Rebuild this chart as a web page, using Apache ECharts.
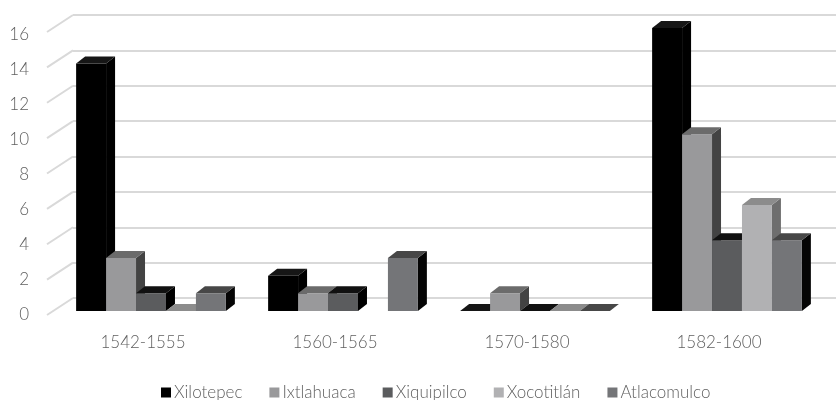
<!DOCTYPE html>
<html><head><meta charset="utf-8">
<script src="https://cdn.jsdelivr.net/npm/echarts@6/dist/echarts.min.js"></script>
<style>html,body{margin:0;padding:0;background:#fff}#c{width:836px;height:400px}</style>
</head><body><div id="c"></div>
<script>
const categories = ['1542-1555', '1560-1565', '1570-1580', '1582-1600'];
const seriesNames = ['Xilotepec', 'Ixtlahuaca', 'Xiquipilco', 'Xocotitlán', 'Atlacomulco'];
const xilotepec = [14, 2, 0, 16];
const ixtlahuaca = [3, 1, 1, 10];
const xiquipilco = [1, 1, 0, 4];
const xocotitlan = [0, null, 0, 6];
const atlacomulco = [1, 3, 0, 4];
const yTicks = [0, 2, 4, 6, 8, 10, 12, 14, 16];

const values = [xilotepec, ixtlahuaca, xiquipilco, xocotitlan, atlacomulco];
const faceColors = [
  {front: '#000000', top: '#161616', side: '#000000'},
  {front: '#99999b', top: '#6b6b6b', side: '#434343'},
  {front: '#5b5c5e', top: '#111111', side: '#000000'},
  {front: '#b1b1b3', top: '#8c8c8c', side: '#6e6e6e'},
  {front: '#747578', top: '#474747', side: '#050505'}
];
const DX = 9, DY = 7, BAR_FRAC = 0.156;
const TXT = '#5f5f5f';
const FONT = 'Lato';

function barRenderer(sIdx) {
  return function (params, api) {
    const v = api.value(1);
    if (v === null || v === undefined || isNaN(v)) return;
    const cat = api.value(0);
    const b = api.coord([cat, 0]);
    const t = api.coord([cat, v]);
    const band = api.size([1, 0])[0];
    const w = band * BAR_FRAC;
    const x0 = b[0] - w * 2.5 + sIdx * w;
    const x1 = x0 + w;
    const yb = b[1], yt = t[1];
    const col = faceColors[sIdx];
    const children = [];
    if (yb - yt > 0.1) {
      children.push({type: 'polygon', shape: {points: [[x1, yt], [x1 + DX, yt - DY], [x1 + DX, yb - DY], [x1, yb]]},
        style: {fill: col.side}});
      children.push({type: 'rect', shape: {x: x0, y: yt, width: w, height: yb - yt},
        style: {fill: col.front}});
    }
    children.push({type: 'polygon', shape: {points: [[x0, yt], [x1, yt], [x1 + DX, yt - DY], [x0 + DX, yt - DY]]},
      style: {fill: col.top}});
    return {type: 'group', children: children};
  };
}

const barSeries = seriesNames.map((name, i) => ({
  name: name,
  type: 'custom',
  xAxisIndex: 0, yAxisIndex: 0,
  renderItem: barRenderer(i),
  itemStyle: {color: faceColors[i].front},
  encode: {x: 0, y: 1},
  data: values[i].map((v, k) => [k, v === null ? '-' : v]),
  z: 5
}));

const chart = echarts.init(document.getElementById('c'), null, {renderer: 'canvas'});
chart.setOption({
  animation: false,
  backgroundColor: '#ffffff',
  textStyle: {fontFamily: FONT},
  grid: [
    {left: 55, right: 13, top: 28, bottom: 89},    // bars
    {left: 73, right: 0, top: 15, bottom: 102},    // back wall
    {left: 47, right: 21, top: 34.5, bottom: 85},  // category labels
    {left: 47, right: 0, top: 34.5, bottom: 85}    // value labels
  ],
  xAxis: [
    {gridIndex: 0, type: 'category', data: categories, show: false},
    {gridIndex: 1, type: 'value', min: 0, max: 1, show: false},
    {gridIndex: 2, type: 'category', data: categories,
      axisLine: {show: false}, axisTick: {show: false},
      axisLabel: {color: TXT, fontSize: 17, fontWeight: 300, fontFamily: FONT, margin: 19}},
    {gridIndex: 3, type: 'value', min: 0, max: 1, show: false}
  ],
  yAxis: [
    {gridIndex: 0, type: 'value', min: 0, max: 16, interval: 2, show: false},
    {gridIndex: 1, type: 'value', min: 0, max: 16, interval: 2,
      axisLine: {show: false}, axisTick: {show: false}, axisLabel: {show: false},
      splitLine: {show: true, lineStyle: {color: '#d9d9d9', width: 2}}},
    {gridIndex: 2, type: 'value', min: 0, max: 16, interval: 2, show: false},
    {gridIndex: 3, type: 'value', min: 0, max: 16, interval: 2,
      axisLine: {show: false}, axisTick: {show: false}, splitLine: {show: false},
      axisLabel: {color: TXT, fontSize: 17, fontWeight: 300, fontFamily: FONT, margin: 18}}
  ],
  legend: {
    data: seriesNames,
    left: 156, top: 379,
    icon: 'rect', itemWidth: 10, itemHeight: 10, itemGap: 27,
    textStyle: {color: TXT, fontSize: 17, fontWeight: 300, fontFamily: FONT, padding: [0, 0, 0, -2]}
  },
  series: [
    {
      type: 'custom', xAxisIndex: 1, yAxisIndex: 1, silent: true, z: 1,
      data: yTicks.map(v => [0, v]),
      encode: {x: 0, y: 1},
      renderItem: function (params, api) {
        const p = api.coord([0, api.value(1)]);
        return {type: 'line', shape: {x1: p[0], y1: p[1], x2: p[0] - 26, y2: p[1] + 17},
          style: {stroke: '#d9d9d9', lineWidth: 2}};
      }
    }
  ].concat(barSeries)
});
</script>
</body></html>
